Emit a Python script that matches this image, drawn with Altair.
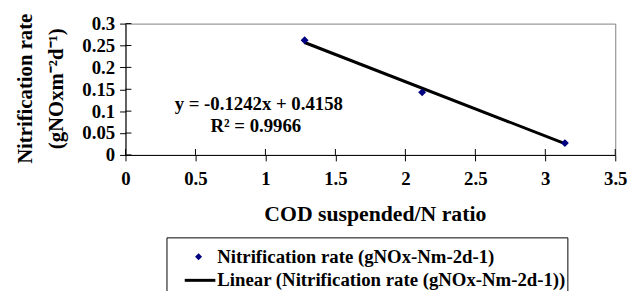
import altair as alt
import pandas as pd

# ---- data ----
cod_ratio = [1.28, 2.12, 3.14]
nitrification_rate = [0.262, 0.143, 0.027]
slope = -0.1242
intercept = 0.4158
r_squared = 0.9966
x_ticks = [0, 0.5, 1, 1.5, 2, 2.5, 3, 3.5]
y_ticks = [0, 0.05, 0.1, 0.15, 0.2, 0.25, 0.3]
series_labels = ["Nitrification rate (gNOx-Nm-2d-1)",
                 "Linear (Nitrification rate (gNOx-Nm-2d-1))"]
x_title = "COD suspended/N ratio"
y_title = ["Nitrification rate", "(gNOxm\u207b\u00b2d\u207b\u00b9)"]
eq_lines = ["y = -0.1242x + 0.4158", "R\u00b2 = 0.9966"]

W, H = 496, 133
FONT = "Liberation Serif"
NAVY = "#000080"

pts = pd.DataFrame({"x": cod_ratio, "y": nitrification_rate})
xs = [min(cod_ratio), max(cod_ratio)]
trend = pd.DataFrame({"x": xs, "y": [slope * v + intercept for v in xs]})

xscale = alt.Scale(domain=[x_ticks[0], x_ticks[-1]], nice=False, zero=False)
yscale = alt.Scale(domain=[y_ticks[0], y_ticks[-1]], nice=False, zero=False)

common_axis = dict(domainColor="black", tickColor="black", tickSize=6,
                   labelFont=FONT, labelFontSize=19, labelFontWeight="bold",
                   labelColor="black", grid=False, title=None, format="~g",
                   labelOverlap=False, labelFlush=False)

x_enc = alt.X("x:Q", scale=xscale,
              axis=alt.Axis(values=x_ticks, labelPadding=9, **common_axis))
y_enc = alt.Y("y:Q", scale=yscale,
              axis=alt.Axis(values=y_ticks, labelPadding=5, **common_axis))

line = alt.Chart(trend).mark_line(color="black", strokeWidth=3).encode(x=x_enc, y=y_enc)
points = alt.Chart(pts).mark_point(filled=True, shape="diamond", size=64,
                                   color=NAVY, opacity=1).encode(x=x_enc, y=y_enc)

# inner halves of the crossing tick marks
xt = pd.DataFrame({"x": x_ticks})
yt = pd.DataFrame({"y": y_ticks})
xin = alt.Chart(xt).mark_rule(color="black", strokeWidth=1).encode(
    x=x_enc, y=alt.value(H - 6), y2=alt.value(H))
yin = alt.Chart(yt).mark_rule(color="black", strokeWidth=1).encode(
    y=y_enc, x=alt.value(0), x2=alt.value(6))


def text_layer(txt, x, y, size, align="center", baseline="alphabetic", angle=0):
    df = pd.DataFrame({"text": [txt]})
    kw = dict(font=FONT, fontSize=size, fontWeight="bold", color="black",
              align=align, baseline=baseline)
    if angle:
        kw["angle"] = angle
    return alt.Chart(df).mark_text(**kw).encode(
        x=alt.value(x), y=alt.value(y), text="text:N")


# equation annotation
eq1 = text_layer(eq_lines[0], 135, 87, 19)
eq2 = text_layer(eq_lines[1], 132, 110, 19)

# axis titles
xtitle = text_layer(x_title, W / 2 + 5, 200, 22)
ytitle1 = text_layer(y_title[0], -101, 66, 21, baseline="middle", angle=270)
ytitle2 = text_layer(y_title[1], -69, 66, 21, baseline="middle", angle=270)

# legend box
box_df = pd.DataFrame({"k": [0]})
box = alt.Chart(box_df).mark_rect(fill="white", stroke="black", strokeWidth=1).encode(
    x=alt.value(42), x2=alt.value(448), y=alt.value(217), y2=alt.value(276))
leg_pt = alt.Chart(box_df).mark_point(filled=True, shape="diamond", size=50,
                                      color=NAVY, opacity=1).encode(
    x=alt.value(74), y=alt.value(236))
leg_ln = alt.Chart(box_df).mark_rule(color="black", strokeWidth=3).encode(
    x=alt.value(60), x2=alt.value(91), y=alt.value(260))
leg1 = text_layer(series_labels[0], 93, 236, 19, align="left", baseline="middle")
leg2 = text_layer(series_labels[1], 93, 260, 19, align="left", baseline="middle")

chart = alt.layer(
    line, points, xin, yin, eq1, eq2, xtitle, ytitle1, ytitle2,
    box, leg_pt, leg_ln, leg1, leg2
).properties(
    width=W, height=H,
    autosize=alt.AutoSizeParams(type="none"),
    padding={"left": 119, "top": 14, "right": 21, "bottom": 136},
    background="white",
).configure_view(stroke="#808080", strokeWidth=1)

chart.save("out.html", embed_options={"renderer": "svg", "actions": False})
